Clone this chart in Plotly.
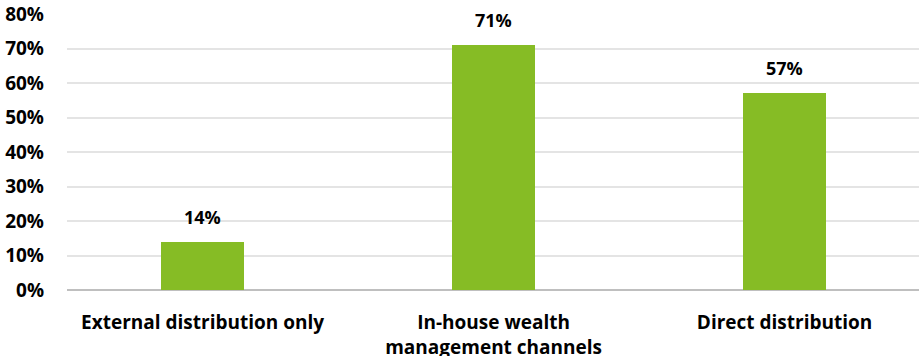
import plotly.graph_objects as go

categories = ["External distribution only", "In-house wealth<br>management channels", "Direct distribution"]
values = [0.14, 0.71, 0.57]
labels = ["14%", "71%", "57%"]
y_ticks = [0, 0.1, 0.2, 0.3, 0.4, 0.5, 0.6, 0.7, 0.8]
y_tick_labels = ["0%", "10%", "20%", "30%", "40%", "50%", "60%", "70%", "80%"]

x_pos = list(range(len(categories)))
FONT = "Open Sans"

fig = go.Figure()
fig.add_trace(go.Bar(
    x=x_pos, y=values, width=0.285,
    marker=dict(color="#86BC25", line=dict(width=0)),
    hoverinfo="skip",
))

for xi, v, t in zip(x_pos, values, labels):
    fig.add_annotation(x=xi, y=v, text=t, showarrow=False, yanchor="bottom",
                       yshift=11, font=dict(family=FONT, size=18, color="#000000", weight=700))

fig.update_layout(
    width=919, height=356,
    margin=dict(l=67, r=0, t=14, b=66),
    paper_bgcolor="white", plot_bgcolor="white",
    showlegend=False,
    bargap=0,
)
fig.update_xaxes(
    tickmode="array", tickvals=x_pos, ticktext=categories,
    range=[-0.466, 2.462], automargin=False,
    showgrid=False, zeroline=False, showline=False,
    ticks="", ticklabelstandoff=19,
    tickfont=dict(family=FONT, size=19, color="#000000", weight=700),
)
fig.update_yaxes(
    range=[0, 0.8], tickmode="array", tickvals=y_ticks, ticktext=y_tick_labels,
    automargin=False,
    showgrid=True, gridcolor="#e4e4e4", gridwidth=1.5,
    zeroline=True, zerolinecolor="#bfbfbf", zerolinewidth=1.5,
    showline=False, ticks="", ticklabelstandoff=22,
    tickfont=dict(family=FONT, size=19, color="#000000", weight=700),
)

fig.write_html("out.html", config={"displayModeBar": False},
               post_script="document.body.style.margin='0';document.body.style.overflow='hidden';")
